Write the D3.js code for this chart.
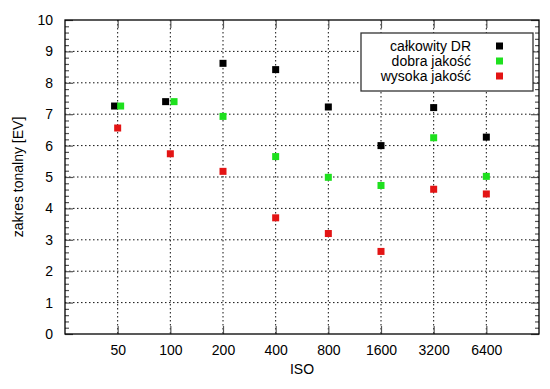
<!DOCTYPE html>
<html>
<head>
<meta charset="utf-8">
<script src="https://cdn.jsdelivr.net/npm/d3@7"></script>
<style>
  body { margin: 0; background: #fff; }
  text { font-family: "Liberation Sans", Arial, sans-serif; fill: #000; }
</style>
</head>
<body>
<svg id="chart" width="550" height="389"></svg>
<script>
// ISO tick labels
const isoTicks = [50, 100, 200, 400, 800, 1600, 3200, 6400];

// series: ISO positions and EV values
const fullDrIso = [48, 94, 200, 400, 800, 1600, 3200, 6400];
const fullDrValues = [7.26, 7.40, 8.62, 8.42, 7.23, 6.00, 7.21, 6.27];

const goodIso = [52, 105, 200, 400, 800, 1600, 3200, 6400];
const goodValues = [7.26, 7.40, 6.93, 5.65, 4.99, 4.73, 6.25, 5.02];

const highIso = [50, 100, 200, 400, 800, 1600, 3200, 6400];
const highValues = [6.56, 5.74, 5.18, 3.70, 3.20, 2.63, 4.61, 4.46];

const seriesNames = ['całkowity DR', 'dobra jakość', 'wysoka jakość'];
const seriesColors = ['#000000', '#1ee01e', '#e31414'];

const svg = d3.select('#chart');
const margin = { left: 65, right: 11, top: 20, bottom: 55 };
const width = 550 - margin.left - margin.right;
const height = 389 - margin.top - margin.bottom;

const x = d3.scaleLog().base(2).domain([25, 12800]).range([0, width]);
const y = d3.scaleLinear().domain([0, 10]).range([height, 0]);

const g = svg.append('g').attr('transform', `translate(${margin.left},${margin.top})`);

// dotted grid
g.selectAll('.hgrid').data(d3.range(1, 10)).enter().append('line')
    .attr('x1', 0).attr('x2', width)
    .attr('y1', (d) => y(d)).attr('y2', (d) => y(d))
    .attr('stroke', '#111').attr('stroke-width', 1).attr('stroke-dasharray', '1.5,2.5');
g.selectAll('.vgrid').data(isoTicks).enter().append('line')
    .attr('x1', (d) => x(d)).attr('x2', (d) => x(d))
    .attr('y1', 0).attr('y2', height)
    .attr('stroke', '#111').attr('stroke-width', 1).attr('stroke-dasharray', '1.5,2.5');

// axes (gnuplot style, ticks pointing inward and mirrored)
const minorY = d3.range(0, 10.01, 0.2).filter((d) => Math.abs(d - Math.round(d)) > 0.01);
const tickStyle = (sel) => {
    sel.select('.domain').remove();
    sel.selectAll('line').attr('stroke', '#555').attr('stroke-width', 1.2);
};

g.append('g').call(d3.axisLeft(y).tickValues(minorY).tickSize(-4).tickFormat(''))
    .call(tickStyle);
g.append('g').attr('transform', `translate(${width},0)`)
    .call(d3.axisRight(y).tickValues(minorY).tickSize(-4).tickFormat(''))
    .call(tickStyle);
g.append('g').call(d3.axisLeft(y).ticks(10).tickSize(-8).tickPadding(12))
    .call(tickStyle)
    .call((a) => a.selectAll('text').attr('font-size', 14).attr('font-family', '"Liberation Sans", Arial, sans-serif'));
g.append('g').attr('transform', `translate(${width},0)`)
    .call(d3.axisRight(y).ticks(10).tickSize(-8).tickFormat(''))
    .call(tickStyle);
g.append('g').attr('transform', `translate(0,${height})`)
    .call(d3.axisBottom(x).tickValues(isoTicks).tickSize(-8).tickPadding(11).tickFormat(d3.format('d')))
    .call(tickStyle)
    .call((a) => a.selectAll('text').attr('font-size', 14).attr('font-family', '"Liberation Sans", Arial, sans-serif'));
g.append('g')
    .call(d3.axisTop(x).tickValues(isoTicks).tickSize(-8).tickFormat(''))
    .call(tickStyle);

// frame
g.append('rect').attr('width', width).attr('height', height)
    .attr('fill', 'none').attr('stroke', '#000').attr('stroke-width', 1.3);

// points
const series = [
    { iso: fullDrIso, values: fullDrValues },
    { iso: goodIso, values: goodValues },
    { iso: highIso, values: highValues }
];
const size = 7;
series.forEach((s, i) => {
    g.append('g').selectAll('rect').data(s.values).enter().append('rect')
        .attr('x', (d, j) => x(s.iso[j]) - size / 2)
        .attr('y', (d) => y(d) - size / 2)
        .attr('width', size).attr('height', size)
        .attr('fill', seriesColors[i]);
});

// legend
const legend = g.append('g').attr('transform', 'translate(296,13)');
legend.append('rect').attr('width', 172).attr('height', 58)
    .attr('fill', '#fff').attr('stroke', '#333').attr('stroke-width', 1.3);
seriesNames.forEach((name, i) => {
    const ly = 13 + i * 15;
    legend.append('text').attr('x', 110).attr('y', ly).attr('dy', '0.35em')
        .attr('text-anchor', 'end').attr('font-size', 14).text(name);
    legend.append('rect').attr('x', 135).attr('y', ly - 3.5)
        .attr('width', size).attr('height', size).attr('fill', seriesColors[i]);
});

// axis titles
svg.append('text').attr('x', margin.left + width / 2).attr('y', 374)
    .attr('text-anchor', 'middle').attr('font-size', 14).text('ISO');
svg.append('text').attr('transform', `translate(18,${margin.top + height / 2}) rotate(-90)`)
    .attr('dy', '0.35em').attr('text-anchor', 'middle').attr('font-size', 14).text('zakres tonalny [EV]');
</script>
</body>
</html>
